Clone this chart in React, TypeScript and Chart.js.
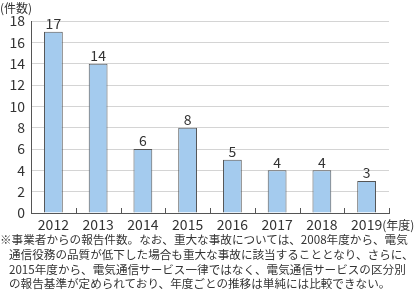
import React, { useEffect, useRef } from "react";
import { Chart, registerables } from "chart.js";

Chart.register(...registerables);

const categories = ["2012", "2013", "2014", "2015", "2016", "2017", "2018", "2019"];
const values = [17, 14, 6, 8, 5, 4, 4, 3];
const yUnit = "(件数)";
const xUnit = "(年度)";
const footnoteLines = [
  "※事業者からの報告件数。なお、重大な事故については、2008年度から、電気",
  "通信役務の品質が低下した場合も重大な事故に該当することとなり、さらに、",
  "2015年度から、電気通信サービス一律ではなく、電気通信サービスの区分別",
  "の報告基準が定められており、年度ごとの推移は単純には比較できない。",
];

const FONT = '"Noto Sans CJK JP", "Noto Sans", sans-serif';
const TEXT = "#333333";

const extrasPlugin = {
  id: "extras",
  afterDatasetsDraw(chart: any) {
    const ctx = chart.ctx;
    const meta = chart.getDatasetMeta(0);
    const xScale = chart.scales.x;
    const area = chart.chartArea;
    ctx.save();
    // value labels
    ctx.font = `14px ${FONT}`;
    ctx.fillStyle = TEXT;
    ctx.textAlign = "center";
    ctx.textBaseline = "bottom";
    meta.data.forEach((bar: any, i: number) => {
      ctx.fillText(String(values[i]), bar.x, bar.y - 1);
    });
    // x-axis tick marks at category boundaries, pointing up
    ctx.strokeStyle = "#555555";
    ctx.lineWidth = 1;
    const n = categories.length;
    const step = (area.right - area.left) / n;
    ctx.beginPath();
    for (let i = 1; i <= n; i++) {
      const x = Math.round(area.left + step * i) + 0.5;
      ctx.moveTo(x, area.bottom);
      ctx.lineTo(x, area.bottom - 5);
    }
    ctx.stroke();
    // y unit
    ctx.font = `12px ${FONT}`;
    ctx.textAlign = "left";
    ctx.textBaseline = "middle";
    ctx.fillText(yUnit, 0, 8);
    // x unit after last label
    ctx.font = `14px ${FONT}`;
    const lastX = xScale.getPixelForValue(n - 1);
    const w = ctx.measureText(categories[n - 1]).width;
    ctx.font = `12px ${FONT}`;
    ctx.textBaseline = "middle";
    ctx.fillText(xUnit, lastX + w / 2, area.bottom + 12);
    ctx.restore();
  },
};

export default function App() {
  const canvasRef = useRef<HTMLCanvasElement | null>(null);

  useEffect(() => {
    document.body.style.margin = "0";
    const canvas = canvasRef.current;
    if (!canvas) return;
    const chart = new Chart(canvas, {
      type: "bar",
      data: {
        labels: categories,
        datasets: [
          {
            data: values,
            backgroundColor: "#a4cbee",
            borderColor: "#555555",
            borderWidth: 1,
            barPercentage: 0.42,
            categoryPercentage: 1,
          },
        ],
      },
      options: {
        animation: false,
        responsive: false,
        devicePixelRatio: 1,
        layout: { padding: { top: 21, right: 29, left: 0, bottom: 0 } },
        plugins: { legend: { display: false }, tooltip: { enabled: false } },
        scales: {
          x: {
            grid: { display: false, drawTicks: false },
            border: { display: true, color: "#555555", width: 1 },
            ticks: {
              color: TEXT,
              font: { family: FONT, size: 14 },
              padding: 3,
              maxRotation: 0,
              autoSkip: false,
            },
            afterFit(scale: any) {
              scale.height = 23;
            },
          },
          y: {
            min: 0,
            max: 18,
            ticks: {
              stepSize: 2,
              color: TEXT,
              font: { family: FONT, size: 14 },
              padding: 6,
            },
            grid: { color: "#d4d4d4", drawTicks: false },
            border: { display: true, color: "#555555", width: 1 },
            afterFit(scale: any) {
              scale.width = 31;
            },
          },
        },
      },
      plugins: [extrasPlugin],
    });
    return () => chart.destroy();
  }, []);

  return (
    <div style={{ position: "relative", width: 418, height: 292, background: "#fff", overflow: "hidden" }}>
      <canvas ref={canvasRef} width={418} height={236} style={{ display: "block" }} />
      <div
        style={{
          position: "absolute",
          left: 0,
          top: 232,
          fontFamily: FONT,
          fontSize: 11.6,
          lineHeight: "14.8px",
          color: TEXT,
          whiteSpace: "nowrap",
        }}
      >
        {footnoteLines.map((line, i) => (
          <div key={i} style={{ paddingLeft: i === 0 ? 0 : 9 }}>
            {line}
          </div>
        ))}
      </div>
    </div>
  );
}
